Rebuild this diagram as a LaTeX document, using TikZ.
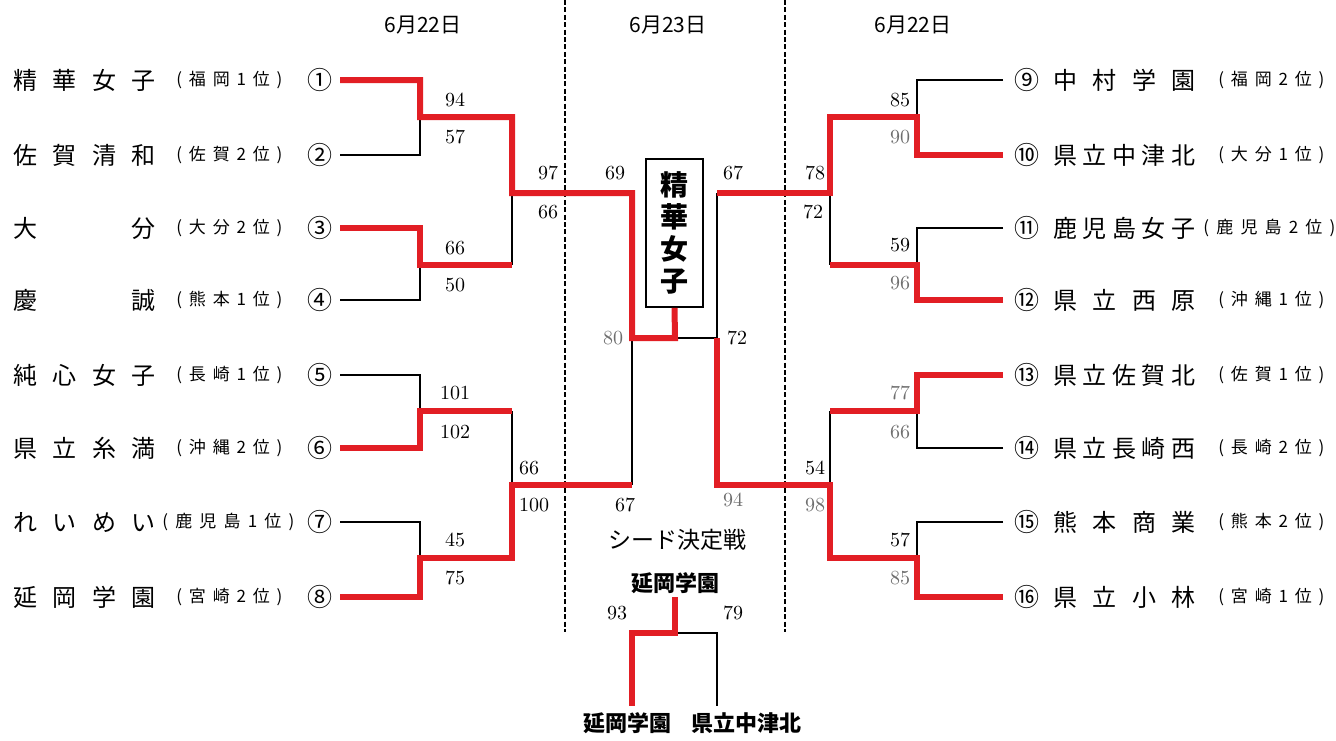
\documentclass[tikz,border=0pt]{standalone}
\usepackage{fontspec}
\newfontfamily\jp{Noto Sans CJK JP}
\definecolor{brk}{RGB}{226,30,36}
\definecolor{gscore}{RGB}{110,110,110}
\newcommand{\nm}[1]{\hbox to 71pt{#1}}
\newcommand{\pr}[1]{\hbox to 53pt{#1}}
\newcommand{\prl}[1]{\hbox to 66pt{#1}}
\tikzset{
  win/.style={draw=brk, line width=3pt},
  lose/.style={draw=black, line width=0.9pt},
  tname/.style={font=\jp\fontsize{12}{12}\selectfont, inner sep=0pt, anchor=west},
  tpref/.style={font=\jp\fontsize{8.5}{9}\selectfont, inner sep=0pt, anchor=west},
  tnum/.style={font=\jp\fontsize{12.5}{13}\selectfont, inner sep=0pt},
  score/.style={font=\fontsize{10}{10}\selectfont, inner sep=0pt},
  gscorest/.style={score, text=gscore},
  datest/.style={font=\jp\fontsize{10.5}{11}\selectfont, inner sep=0pt},
  daysep/.style={draw=black, line width=1.3pt, dash pattern=on 2.5pt off 1.2pt},
}
\begin{document}
\begin{tikzpicture}[x=0.5pt,y=-0.5pt]
\useasboundingbox (0,0) rectangle (1336,740);
% dates and day separators
\node[datest] (d1) at (423,25) {6月22日};
\node[datest] (d2) at (668,25) {6月23日};
\node[datest] (d3) at (913,25) {6月22日};
\coordinate (s1t) at (565,0); \coordinate (s1b) at (565,632);
\coordinate (s2t) at (785,0); \coordinate (s2b) at (785,632);
\draw[daysep] (s1t) -- (s1b);
\draw[daysep] (s2t) -- (s2b);
% left teams
\node[tname] (nm1) at (13,80) {\nm{精\hfill 華\hfill 女\hfill 子}};
\node[tname] (nm2) at (13,155) {\nm{佐\hfill 賀\hfill 清\hfill 和}};
\node[tname] (nm3) at (13,228) {\nm{大\hfill 分}};
\node[tname] (nm4) at (13,300) {\nm{慶\hfill 誠}};
\node[tname] (nm5) at (13,375) {\nm{純\hfill 心\hfill 女\hfill 子}};
\node[tname] (nm6) at (13,448) {\nm{県\hfill 立\hfill 糸\hfill 満}};
\node[tname] (nm7) at (13,522) {\nm{れ\hfill い\hfill め\hfill い}};
\node[tname] (nm8) at (13,597) {\nm{延\hfill 岡\hfill 学\hfill 園}};
\node[tpref] (pr1) at (176,80) {\pr{(\hfill 福\hfill 岡\hfill 1\hfill 位\hfill )}};
\node[tpref] (pr2) at (176,155) {\pr{(\hfill 佐\hfill 賀\hfill 2\hfill 位\hfill )}};
\node[tpref] (pr3) at (176,228) {\pr{(\hfill 大\hfill 分\hfill 2\hfill 位\hfill )}};
\node[tpref] (pr4) at (176,300) {\pr{(\hfill 熊\hfill 本\hfill 1\hfill 位\hfill )}};
\node[tpref] (pr5) at (176,375) {\pr{(\hfill 長\hfill 崎\hfill 1\hfill 位\hfill )}};
\node[tpref] (pr6) at (176,448) {\pr{(\hfill 沖\hfill 縄\hfill 2\hfill 位\hfill )}};
\node[tpref] (pr7) at (162,522) {\prl{(\hfill 鹿\hfill 児\hfill 島\hfill 1\hfill 位\hfill )}};
\node[tpref] (pr8) at (176,597) {\pr{(\hfill 宮\hfill 崎\hfill 2\hfill 位\hfill )}};
\foreach \i/\y/\c in {1/80/①,2/155/②,3/228/③,4/300/④,5/375/⑤,6/448/⑥,7/522/⑦,8/597/⑧}{
  \node[tnum] (c\i) at (320,\y) {\c};
  \coordinate (a\i) at (340,\y);
}
% right teams
\foreach \i/\y/\c in {9/80/⑨,10/155/⑩,11/228/⑪,12/300/⑫,13/375/⑬,14/448/⑭,15/522/⑮,16/597/⑯}{
  \node[tnum] (c\i) at (1027,\y) {\c};
  \coordinate (a\i) at (1003,\y);
}
\node[tname] (nm9) at (1053,80) {\nm{中\hfill 村\hfill 学\hfill 園}};
\node[tname] (nm10) at (1053,155) {\nm{県\hfill 立\hfill 中\hfill 津\hfill 北}};
\node[tname] (nm11) at (1053,228) {\nm{鹿\hfill 児\hfill 島\hfill 女\hfill 子}};
\node[tname] (nm12) at (1053,300) {\nm{県\hfill 立\hfill 西\hfill 原}};
\node[tname] (nm13) at (1053,375) {\nm{県\hfill 立\hfill 佐\hfill 賀\hfill 北}};
\node[tname] (nm14) at (1053,448) {\nm{県\hfill 立\hfill 長\hfill 崎\hfill 西}};
\node[tname] (nm15) at (1053,522) {\nm{熊\hfill 本\hfill 商\hfill 業}};
\node[tname] (nm16) at (1053,597) {\nm{県\hfill 立\hfill 小\hfill 林}};
\node[tpref] (pr9) at (1218,80) {\pr{(\hfill 福\hfill 岡\hfill 2\hfill 位\hfill )}};
\node[tpref] (pr10) at (1218,155) {\pr{(\hfill 大\hfill 分\hfill 1\hfill 位\hfill )}};
\node[tpref] (pr11) at (1203,228) {\prl{(\hfill 鹿\hfill 児\hfill 島\hfill 2\hfill 位\hfill )}};
\node[tpref] (pr12) at (1218,300) {\pr{(\hfill 沖\hfill 縄\hfill 1\hfill 位\hfill )}};
\node[tpref] (pr13) at (1218,375) {\pr{(\hfill 佐\hfill 賀\hfill 1\hfill 位\hfill )}};
\node[tpref] (pr14) at (1218,448) {\pr{(\hfill 長\hfill 崎\hfill 2\hfill 位\hfill )}};
\node[tpref] (pr15) at (1218,522) {\pr{(\hfill 熊\hfill 本\hfill 2\hfill 位\hfill )}};
\node[tpref] (pr16) at (1218,597) {\pr{(\hfill 宮\hfill 崎\hfill 1\hfill 位\hfill )}};
% junctions
\coordinate (m12) at (420,117); \coordinate (m34) at (420,265);
\coordinate (m56) at (420,411); \coordinate (m78) at (420,558);
\coordinate (p12) at (512,117); \coordinate (p34) at (512,265);
\coordinate (p56) at (512,411); \coordinate (p78) at (512,558);
\coordinate (n1) at (512,193); \coordinate (n2) at (512,485);
\coordinate (q1) at (632,193); \coordinate (q2) at (632,485);
\coordinate (sL) at (632,338); \coordinate (f) at (675,338); \coordinate (sR) at (717,338);
\coordinate (q3) at (717,193); \coordinate (q4) at (717,485);
\coordinate (n3) at (830,193); \coordinate (n4) at (830,485);
\coordinate (p9) at (830,117); \coordinate (p11) at (830,265);
\coordinate (p13) at (830,411); \coordinate (p15) at (830,558);
\coordinate (m9) at (917,117); \coordinate (m11) at (917,265);
\coordinate (m13) at (917,411); \coordinate (m15) at (917,558);
% champion
\node[draw=black, line width=0.8pt, inner sep=0pt,
      minimum width=28.5pt, minimum height=74pt, font=\jp\bfseries\fontsize{14}{16}\selectfont,
      align=center] (champ) at (674.5,233) {精\\[0pt]華\\[0pt]女\\[0pt]子};
% losers
\draw[lose] (a2) -| (m12);
\draw[lose] (a4) -| (m34);
\draw[lose] (a5) -| (m56);
\draw[lose] (a7) -| (m78);
\draw[lose] (p34) -- (n1);
\draw[lose] (p56) -- (n2);
\draw[lose] (sL) -- (q2);
\draw[lose] (f) -- (sR);
\draw[lose] (q3) -- (sR);
\draw[lose] (n3) -- (p11);
\draw[lose] (n4) -- (p13);
\draw[lose] (a9) -| (m9);
\draw[lose] (a11) -| (m11);
\draw[lose] (a14) -| (m13);
\draw[lose] (a15) -| (m15);
% winners
\draw[win] (a1) -| (m12) -- (p12) -- (n1) -- (q1) -- (sL) -- (f) -- (champ.south);
\draw[win] (a3) -| (m34) -- (p34);
\draw[win] (a6) -| (m56) -- (p56);
\draw[win] (a8) -| (m78) -- (p78) -- (n2) -- (q2);
\draw[win] (a10) -| (m9) -- (p9) -- (n3) -- (q3);
\draw[win] (a12) -| (m11) -- (p11);
\draw[win] (a13) -| (m13) -- (p13);
\draw[win] (a16) -| (m15) -- (p15) -- (n4) -- (q4) -- (sR);
% scores
\node[score] (s1) at (455,100) {94};
\node[score] (s2) at (455,137) {57};
\node[score] (s3) at (455,248) {66};
\node[score] (s4) at (455,285) {50};
\node[score] (s5) at (455,393) {101};
\node[score] (s6) at (455,432) {102};
\node[score] (s7) at (455,540) {45};
\node[score] (s8) at (455,578) {75};
\node[score] (s9) at (548,173) {97};
\node[score] (s10) at (548,212) {66};
\node[score] (s11) at (529,468) {66};
\node[score] (s12) at (534,505) {100};
\node[score] (s13) at (615,173) {69};
\node[gscorest] (s14) at (613,338) {80};
\node[score] (s15) at (625,505) {67};
\node[score] (s16) at (733,173) {67};
\node[score] (s17) at (737,338) {72};
\node[gscorest] (s18) at (733,500) {94};
\node[score] (s19) at (815,173) {78};
\node[score] (s20) at (813,212) {72};
\node[score] (s21) at (815,468) {54};
\node[gscorest] (s22) at (815,505) {98};
\node[score] (s23) at (900,100) {85};
\node[gscorest] (s24) at (900,137) {90};
\node[score] (s25) at (900,245) {59};
\node[gscorest] (s26) at (900,283) {96};
\node[gscorest] (s27) at (900,393) {77};
\node[gscorest] (s28) at (900,432) {66};
\node[score] (s29) at (900,540) {57};
\node[gscorest] (s30) at (900,578) {85};
% seed match
\node[font=\jp\fontsize{11.5}{12}\selectfont, inner sep=0pt] (seedt) at (677,540) {シード決定戦};
\node[font=\jp\bfseries\fontsize{11}{12}\selectfont, inner sep=0pt] (seedw) at (675,583) {延岡学園};
\node[font=\jp\bfseries\fontsize{11}{12}\selectfont, inner sep=0pt] (seedl) at (627,723) {延岡学園};
\node[font=\jp\bfseries\fontsize{11}{12}\selectfont, inner sep=0pt] (seedr) at (746,723) {県立中津北};
\coordinate (sd) at (675,597); \coordinate (sj) at (675,633);
\coordinate (sl) at (632,633); \coordinate (sr) at (717,633);
\coordinate (bl) at (632,706); \coordinate (br) at (717,706);
\draw[lose] (sj) -- (sr) -- (br);
\draw[win] (sd) -- (sj) -- (sl) -- (bl);
\node[score] (s31) at (617,613) {93};
\node[score] (s32) at (733,613) {79};
\end{tikzpicture}
\end{document}
